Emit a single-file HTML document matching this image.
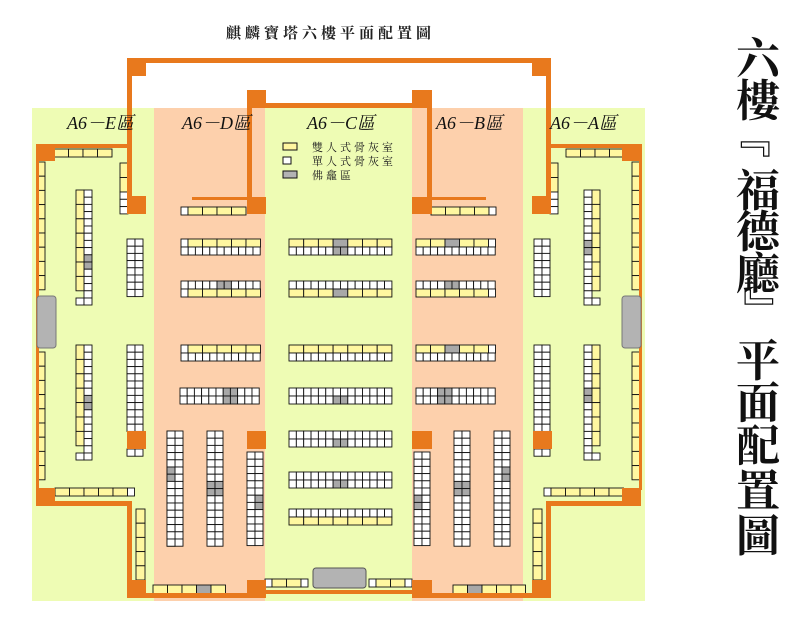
<!DOCTYPE html>
<html><head><meta charset="utf-8"><style>
html,body{margin:0;padding:0;background:#fff;width:803px;height:622px;overflow:hidden}
svg{display:block}
.zl{font-family:"Liberation Serif","Noto Serif CJK TC",serif;font-style:italic;font-size:18px;fill:#111}
.vt{font-family:"Liberation Serif","Noto Serif CJK TC",serif;font-weight:bold;font-size:44px;fill:#111}
</style></head><body>
<svg id="s" width="803" height="622" viewBox="0 0 803 622" xmlns="http://www.w3.org/2000/svg">
<rect x="32" y="108" width="613" height="493" fill="#EEFCB4"/>
<rect x="154" y="108" width="111" height="493" fill="#FDD0AC"/>
<rect x="412" y="108" width="111" height="493" fill="#FDD0AC"/>
<g id="cells"></g>
<g fill="#E8791D">
<rect x="127" y="58" width="424" height="5"/>
<rect x="127" y="58" width="19" height="18"/><rect x="532" y="58" width="19" height="18"/>
<rect x="127" y="58" width="5" height="156"/><rect x="546" y="58" width="5" height="156"/>
<rect x="127" y="196" width="19" height="18"/><rect x="532" y="196" width="19" height="18"/>
<rect x="247" y="90" width="19" height="18"/><rect x="412" y="90" width="20" height="18"/>
<rect x="247" y="103" width="185" height="5"/>
<rect x="247" y="90" width="5" height="124"/><rect x="427" y="90" width="5" height="124"/>
<rect x="247" y="197" width="19" height="17"/><rect x="412" y="197" width="20" height="17"/>
<rect x="192" y="197" width="60" height="3"/><rect x="427" y="197" width="59" height="3"/>
<rect x="36" y="144" width="96" height="4"/><rect x="36" y="144" width="19" height="17"/>
<rect x="36" y="144" width="3" height="346"/>
<rect x="546" y="144" width="95" height="4"/><rect x="622" y="144" width="19" height="17"/>
<rect x="639" y="144" width="3" height="346"/>
<rect x="36" y="488" width="19" height="18"/><rect x="36" y="501" width="96" height="5"/>
<rect x="127" y="501" width="5" height="97"/><rect x="127" y="580" width="19" height="18"/>
<rect x="127" y="593" width="138" height="5"/><rect x="247" y="580" width="19" height="18"/>
<rect x="265" y="590" width="147" height="4"/>
<rect x="412" y="580" width="20" height="18"/><rect x="412" y="593" width="139" height="5"/>
<rect x="532" y="580" width="19" height="18"/><rect x="546" y="501" width="5" height="97"/>
<rect x="546" y="501" width="95" height="5"/><rect x="622" y="488" width="19" height="18"/>
<rect x="127" y="431" width="19" height="18"/><rect x="247" y="431" width="19" height="18"/>
<rect x="412" y="431" width="20" height="18"/><rect x="533" y="431" width="19" height="18"/>
</g>
<rect x="37" y="296" width="19" height="52" rx="3" fill="#b3b3b3" stroke="#777"/>
<rect x="622" y="296" width="19" height="52" rx="3" fill="#b3b3b3" stroke="#777"/>
<rect x="313" y="568" width="53" height="20" rx="3" fill="#b3b3b3" stroke="#555"/>
<text x="226" y="38" font-family="'Liberation Serif','Noto Serif CJK TC',serif" font-size="15" font-weight="bold" letter-spacing="4" fill="#222">麒麟寶塔六樓平面配置圖</text>
<text class="zl" x="67" y="129">A6－E區</text>
<text class="zl" x="182" y="129">A6－D區</text>
<text class="zl" x="307" y="129">A6－C區</text>
<text class="zl" x="436" y="129">A6－B區</text>
<text class="zl" x="550" y="129">A6－A區</text>
<rect x="283" y="143" width="14" height="7" fill="#FFF7A0" stroke="#111"/>
<rect x="283" y="157" width="8" height="7" fill="#fff" stroke="#111"/>
<rect x="283" y="171" width="14" height="7" fill="#b3b3b3" stroke="#111"/>
<g font-family="'Liberation Serif','Noto Serif CJK TC',serif" font-size="11" fill="#222" letter-spacing="3">
<text x="312" y="151">雙人式骨灰室</text><text x="312" y="165">單人式骨灰室</text><text x="312" y="179">佛龕區</text>
</g>
<g class="vt" text-anchor="middle">
<text x="758" y="74">六</text><text x="758" y="116">樓</text>
<g transform="translate(-2,-5)"><text x="758" y="155" dominant-baseline="middle" transform="rotate(90 758 141)">『</text></g>
<text x="758" y="206">福</text><text x="758" y="247">德</text><text x="758" y="289">廳</text>
<g transform="translate(15,10)"><text x="758" y="314" dominant-baseline="middle" transform="rotate(90 758 300)">』</text></g>
<text x="758" y="376">平</text><text x="758" y="418">面</text>
<text x="758" y="461">配</text><text x="758" y="506">置</text><text x="758" y="551">圖</text>
</g>
</svg>
<script>
var g=document.getElementById('cells'),NS='http://www.w3.org/2000/svg';
var Y='#FFF7A0',W='#fff',G='#a8a8a8';
function r(x,y,w,h,f){var e=document.createElementNS(NS,'rect');e.setAttribute('x',x);e.setAttribute('y',y);e.setAttribute('width',w);e.setAttribute('height',h);e.setAttribute('fill',f);e.setAttribute('stroke','#111');e.setAttribute('stroke-width','0.9');g.appendChild(e);}
function row(x,y,h,list){list.forEach(function(c){r(x,y,c[0],h,c[1]);x+=c[0];});}
function hy(x,y,n,w,lead){var l=[];if(lead)l.push([7,W]);for(var i=0;i<n;i++)l.push([w,Y]);row(x,y,8,l);}
function hw(x,y,n,w,gr){var l=[];for(var i=0;i<n;i++)l.push([w,(gr&&gr.indexOf(i)>=0)?G:W]);row(x,y,8,l);}
function vcol(x,y,n,h,w,f){for(var i=0;i<n;i++)r(x,y+i*h,w,h,f);}
function pair(x,y,n,gr){for(var i=0;i<n;i++){var f=(gr&&gr.indexOf(i)>=0)?G:W;r(x,y+i*7.2,8,7.2,f);r(x+8,y+i*7.2,8,7.2,f);}}
function pairR(x,y,n,gr){for(var i=0;i<n;i++){var f=(gr&&gr.indexOf(i)>=0)?G:W;r(x,y+i*7.2,8,7.2,W);r(x+8,y+i*7.2,8,7.2,f);}}
function yw(x,y,n,yl,gr){
 for(var i=0;i<n;i++){var f=(gr&&gr.indexOf(i)>=0)?G:W;r(yl?x+8:x,y+i*7.2,8,7.2,f);}
 for(var j=0;j<Math.floor(n/2);j++)r(yl?x:x+8,y+j*14.4,8,14.4,Y);}
row(54,149,8,[[14.5,Y],[14.5,Y],[14.5,Y],[14.5,Y]]);
vcol(37,162,9,14.2,8,Y);vcol(37,352,9,14.2,8,Y);
yw(76,190,15,true,[9,10]);r(76,298,8,7,W);r(84,298,8,7,W);
yw(76,345,15,true,[7,8]);r(76,453,8,7,W);r(84,453,8,7,W);
pair(127,239,8);pair(127,345,12);pair(127,449,1);
vcol(120,163,2,14.5,8,Y);vcol(120,192,3,7.3,8,W);
row(55,488,8,[[14.5,Y],[14.5,Y],[14.5,Y],[14.5,Y],[14.5,Y],[7,W]]);
vcol(136,509,5,14.2,9,Y);
hy(181,207,4,14.5,true);
hy(181,239,5,14.5,true);hw(181,247,11,7.2,[]);
hw(181,281,11,7.2,[5,6]);hy(181,289,5,14.5,true);
hy(181,345,5,14.5,true);hw(181,353,11,7.2,[]);
hw(180,388,11,7.2,[6,7]);hw(180,396,11,7.2,[6,7]);
pair(167,431,16);
for(var i=0;i<16;i++){r(167,431+i*7.2,8,7.2,(i==5||i==6)?G:W);}
pair(207,431,16,[7,8]);pairR(247,452,13,[6,7]);
row(153,585,9,[[14.5,Y],[14.5,Y],[14.5,Y],[14.5,G],[14.5,Y]]);
var y7=[];for(var i=0;i<7;i++)y7.push([14.7,i==3?G:Y]);
row(289,239,8,y7);hw(289,247,14,7.35,[6,7]);
hw(289,281,14,7.35,[]);row(289,289,8,[[14.7,Y],[14.7,Y],[14.7,Y],[14.7,G],[14.7,Y],[14.7,Y],[14.7,Y]]);
row(289,345,8,[[14.7,Y],[14.7,Y],[14.7,Y],[14.7,Y],[14.7,Y],[14.7,Y],[14.7,Y]]);hw(289,353,14,7.35,[]);
hw(289,388,14,7.35,[]);hw(289,396,14,7.35,[6,7]);
hw(289,431,14,7.35,[]);hw(289,439,14,7.35,[6,7]);
hw(289,472,14,7.35,[]);hw(289,480,14,7.35,[6,7]);
hw(289,509,14,7.35,[]);row(289,517,8,[[14.7,Y],[14.7,Y],[14.7,Y],[14.7,Y],[14.7,Y],[14.7,Y],[14.7,Y]]);
row(265,579,8,[[7,W],[14.5,Y],[14.5,Y],[7,W]]);
row(318,570,8,[[14.5,W],[14.5,W],[14.5,W]]);
row(369,579,8,[[7,W],[14.5,Y],[14.5,Y],[7,W]]);
row(431,207,8,[[14.5,Y],[14.5,Y],[14.5,Y],[14.5,Y],[7,W]]);
row(416,239,8,[[14.5,Y],[14.5,Y],[14.5,G],[14.5,Y],[14.5,Y],[7,W]]);hw(416,247,11,7.2,[]);
hw(416,281,11,7.2,[4,5]);row(416,289,8,[[14.5,Y],[14.5,Y],[14.5,Y],[14.5,Y],[14.5,Y],[7,W]]);
row(416,345,8,[[14.5,Y],[14.5,Y],[14.5,G],[14.5,Y],[14.5,Y],[7,W]]);hw(416,353,11,7.2,[]);
hw(416,388,11,7.2,[3,4]);hw(416,396,11,7.2,[3,4]);
for(var i=0;i<13;i++){r(414,452+i*7.2,8,7.2,(i==6||i==7)?G:W);r(422,452+i*7.2,8,7.2,W);}
pair(454,431,16,[7,8]);pairR(494,431,16,[5,6]);
row(453,585,9,[[14.5,Y],[14.5,G],[14.5,Y],[14.5,Y],[14.5,Y]]);
row(566,149,8,[[14.5,Y],[14.5,Y],[14.5,Y],[14.5,Y]]);
vcol(632,162,9,14.2,8,Y);vcol(632,352,9,14.2,8,Y);
yw(584,190,15,false,[7,8]);r(584,298,8,7,W);r(592,298,8,7,W);
yw(584,345,15,false,[6,7]);r(584,453,8,7,W);r(592,453,8,7,W);
pair(534,239,8);pair(534,345,12);pair(534,449,1);
vcol(550,163,2,14.5,8,Y);vcol(550,192,3,7.3,8,W);
row(544,488,8,[[7,W],[14.5,Y],[14.5,Y],[14.5,Y],[14.5,Y],[14.5,Y]]);
vcol(533,509,5,14.2,9,Y);
vcol(47,299,3,15,8,W);vcol(623,299,3,15,8,W);
</script>
</body></html>
